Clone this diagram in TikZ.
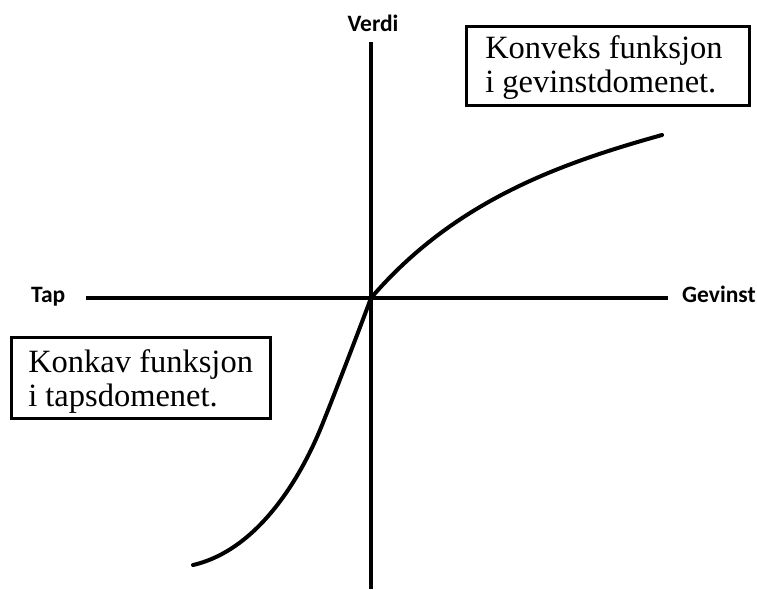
\documentclass[tikz,border=0pt]{standalone}
\usepackage{fontspec}
\setmainfont{Liberation Serif}
\newfontfamily\lblfont{Carlito}
\begin{document}
\begin{tikzpicture}[x=1pt,y=-1pt,
  axis/.style={line width=4pt},
  curve/.style={line width=4pt, line cap=round, line join=round},
  lbl/.style={font=\lblfont\bfseries\fontsize{23.5}{27}\selectfont, inner sep=0pt},
  txtbox/.style={draw, line width=2.5pt, inner ysep=0pt,
    font=\fontsize{32.5}{34}\selectfont}]
\useasboundingbox (0,0) rectangle (757,589);
\coordinate (O) at (371,298);
\coordinate (vtop) at (371,42);
\coordinate (vbot) at (371,589);
\coordinate (hleft) at (86,298);
\coordinate (hright) at (668,298);
\coordinate (gainend) at (662,135);
\coordinate (lossmid) at (320,430);
\coordinate (lossend) at (193,565);
\draw[axis] (vtop) -- (vbot);
\draw[axis] (hleft) -- (hright);
\draw[curve] (O) .. controls (455,200) and (562,163) .. (gainend);
\draw[curve] (O) .. controls (358,333) and (328,411) .. (lossmid)
  .. controls (300,478) and (258,550) .. (lossend);
\node[lbl, anchor=base] (verdi) at (373,31) {Verdi};
\node[lbl, anchor=base west] (tap) at (31,302) {Tap};
\node[lbl, anchor=base west] (gevinst) at (682,302) {Gevinst};
\node[txtbox, anchor=north west, inner xsep=19pt, text height=32pt, text depth=47pt] (konveks) at (465,25)
  {\begin{tabular}[t]{@{}p{245pt}@{}}Konveks funksjon\\ i gevinstdomenet.\end{tabular}};
\node[txtbox, anchor=north west, inner xsep=17pt, text height=35pt, text depth=46pt] (konkav) at (10,336)
  {\begin{tabular}[t]{@{}p{225pt}@{}}Konkav funksjon\\ i tapsdomenet.\end{tabular}};
\end{tikzpicture}
\end{document}
